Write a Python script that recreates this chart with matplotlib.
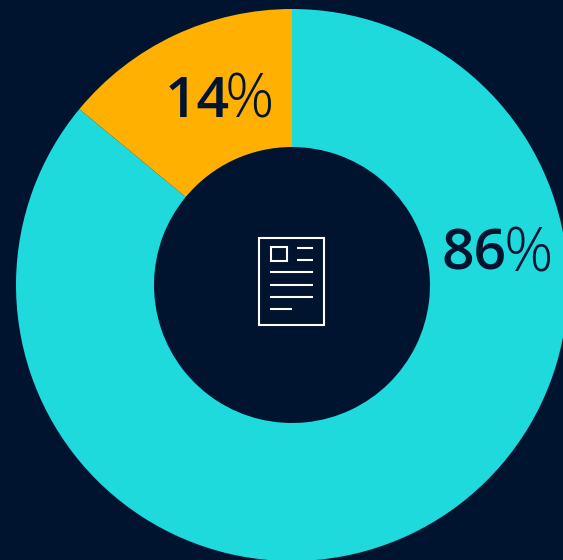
import matplotlib
matplotlib.use('Agg')
import matplotlib.pyplot as plt
from matplotlib.patches import Rectangle

labels = ['86', '14']
shares = [86, 14]
colors = ['#1fdadc', '#ffb000']
bg = '#00142f'
W, H = 563, 560

fig = plt.figure(figsize=(W / 100, H / 100), dpi=100, facecolor=bg)
ax = fig.add_axes([0, 0, 1, 1])
ax.pie(shares, colors=colors, startangle=90, counterclock=False,
       center=(292, H - 285), radius=276,
       wedgeprops=dict(width=138, linewidth=0))
ax.set_xlim(0, W)
ax.set_ylim(0, H)
ax.set_aspect('equal')
ax.axis('off')

# percent labels, digits heavier than the sign
def label(x, y, num, gap):
    ax.text(x, H - y, num, family='Open Sans', weight='semibold', fontsize=41,
            color=bg, ha='left', va='baseline')
    ax.text(x + gap, H - y - 1, '%', family='Open Sans', weight='light', fontsize=44,
            color=bg, ha='left', va='baseline')

label(442, 270, labels[0], 62)
label(165, 117, labels[1], 60)

# document icon
ax.add_patch(Rectangle((259, H - 325), 65, 87, fill=False, ec='white', lw=1.5))
ax.add_patch(Rectangle((270.5, H - 261), 16.5, 14, fill=False, ec='white', lw=1.5))
for x0, x1, y in [(297, 313, 247.5), (297, 313, 260), (270, 313, 272),
                  (270, 313, 284.5), (270, 313, 297), (270, 292, 309)]:
    ax.plot([x0, x1], [H - y, H - y], color='white', lw=1.5, solid_capstyle='butt')

fig.savefig('out.png', dpi=100, facecolor=bg)
